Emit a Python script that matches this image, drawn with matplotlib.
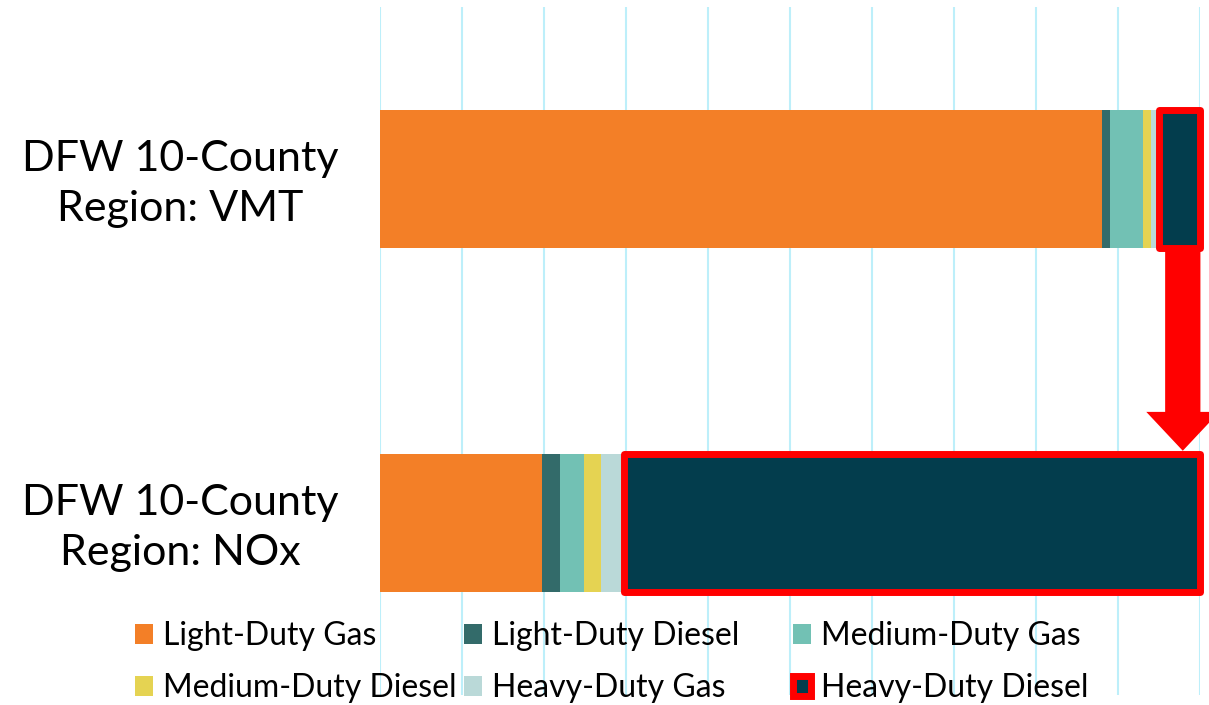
import matplotlib
matplotlib.use("Agg")
import matplotlib.pyplot as plt
from matplotlib.patches import Polygon
from matplotlib.transforms import ScaledTranslation
import numpy as np

plt.rcParams['font.family'] = ['Lato', 'DejaVu Sans']

categories = ["DFW 10-County\nRegion: VMT", "DFW 10-County\nRegion: NOx"]
series_names = ["Light-Duty Gas", "Light-Duty Diesel", "Medium-Duty Gas",
                "Medium-Duty Diesel", "Heavy-Duty Gas", "Heavy-Duty Diesel"]
light_duty_gas = [88.0, 19.8]
light_duty_diesel = [1.0, 2.2]
medium_duty_gas = [4.1, 2.9]
medium_duty_diesel = [0.9, 2.0]
heavy_duty_gas = [1.0, 2.9]
heavy_duty_diesel = [5.0, 70.2]

colors = ["#F37F27", "#336B6A", "#72C1B4", "#E5D352", "#BAD9D8", "#033D4D"]
values = [light_duty_gas, light_duty_diesel, medium_duty_gas,
          medium_duty_diesel, heavy_duty_gas, heavy_duty_diesel]

W, H = 1209, 705
fig = plt.figure(figsize=(W / 100, H / 100), dpi=100)
ax = fig.add_axes([380 / W, 1 - 695 / H, (1200 - 380) / W, (695 - 7) / H])

y = np.arange(len(categories))
left = np.zeros(len(categories))
containers = []
for name, vals, c in zip(series_names, values, colors):
    vals = np.array(vals)
    if name == "Heavy-Duty Diesel":
        bc = ax.barh(y, vals, left=left, height=0.4, color=c, label=name,
                     edgecolor="#FF0000", linewidth=5, zorder=4)
        for p in bc.patches:
            p.set_joinstyle("round")
            p.set_clip_on(False)
    else:
        bc = ax.barh(y, vals, left=left, height=0.4, color=c, label=name,
                     linewidth=0, zorder=3)
    containers.append(bc)
    left = left + vals

ax.set_xlim(0, 100)
ax.set_ylim(1.5, -0.5)
ax.set_xticks(np.arange(0, 101, 10))
ax.tick_params(axis='x', length=0, labelbottom=False)
ax.grid(axis='x', color="#BDEFFA", linewidth=1.5, zorder=0)
ax.set_axisbelow(True)
ax.set_yticks(y)
ax.set_yticklabels(categories, fontsize=31, multialignment='center',
                   linespacing=1.39)
ax.tick_params(axis='y', length=0, pad=30)
shift = ScaledTranslation(0, 5 / 100, fig.dpi_scale_trans)
for lab in ax.get_yticklabels():
    lab.set_transform(lab.get_transform() + shift)
for s in ax.spines.values():
    s.set_visible(False)

# red arrow from the VMT heavy-duty diesel box down to the NOx one
xc = 97.9
shaft_w = 2.15
head_w = 4.45
y0 = 0.2
y_head = 0.677
y_tip = 0.79
arrow = Polygon([[xc - shaft_w, y0], [xc + shaft_w, y0], [xc + shaft_w, y_head],
                 [xc + head_w, y_head], [xc, y_tip], [xc - head_w, y_head],
                 [xc - shaft_w, y_head]], closed=True, facecolor="#FF0000",
                edgecolor="none", zorder=5, clip_on=False)
ax.add_patch(arrow)

# legend: three equal-width columns, two rows
col_x = [(135 - 380) / 820, (464 - 380) / 820, (793 - 380) / 820]
col_items = [[0, 3], [1, 4], [2, 5]]
legs = []
for cx, items in zip(col_x, col_items):
    leg = ax.legend([containers[i] for i in items],
                    [series_names[i] for i in items],
                    loc='lower left', bbox_to_anchor=(cx, -0.012),
                    frameon=False, fontsize=23, handlelength=0.56,
                    handleheight=0.56, handletextpad=0.31, labelspacing=0.69,
                    borderpad=0, borderaxespad=0)
    legs.append(leg)
for leg in legs[:-1]:
    ax.add_artist(leg)

fig.savefig("out.png", dpi=100)
